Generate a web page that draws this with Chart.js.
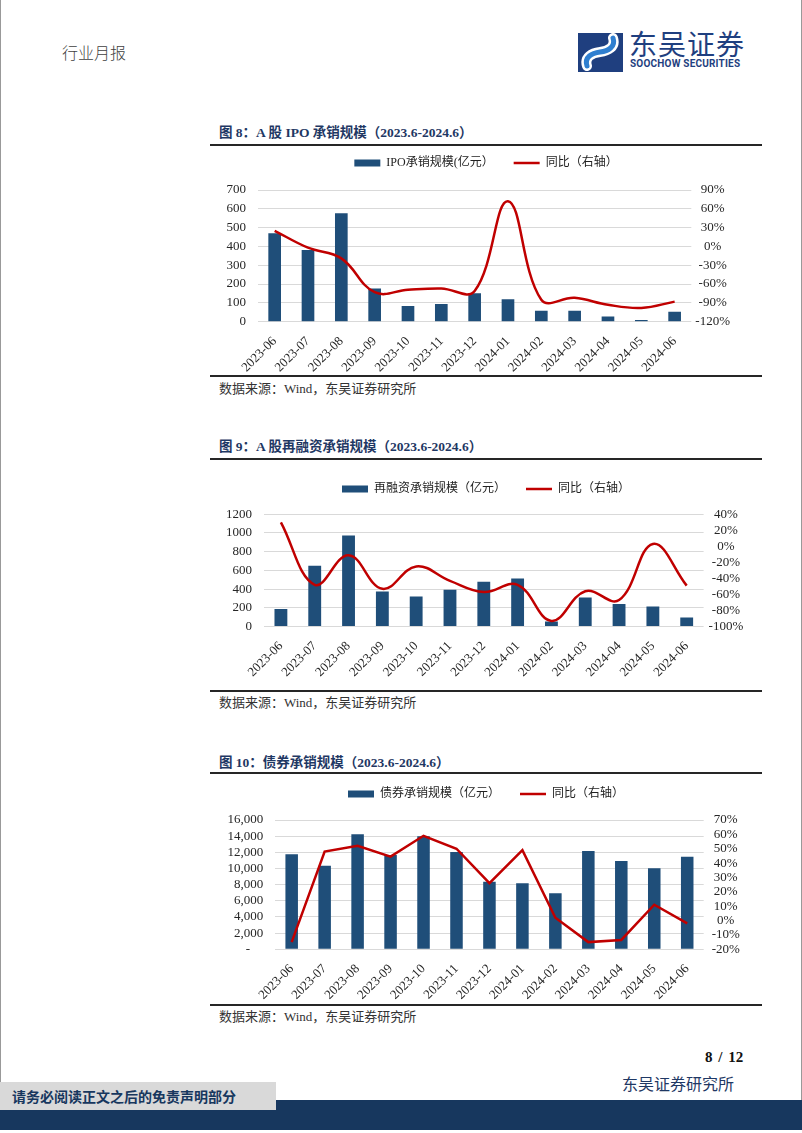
<!DOCTYPE html>
<html><head><meta charset="utf-8">
<script src="https://cdn.jsdelivr.net/npm/chart.js@4.4.1/dist/chart.umd.min.js"></script>
<style>
body{margin:0;background:#fff;}
#page{position:relative;width:802px;height:1133px;overflow:hidden;background:#fff;font-family:"Liberation Serif","Noto Sans CJK SC",serif;}
.abs{position:absolute;white-space:nowrap;}
.title{left:219px;font-size:13.5px;font-weight:bold;color:#1f3864;line-height:20px;height:20px;}
.rule{position:absolute;left:210px;width:552px;height:2px;background:#262626;}
.src{left:219px;font-size:13px;color:#333;line-height:18px;}
.cw{position:absolute;left:210px;width:552px;}
</style></head>
<body><div id="page">
<div class="abs" style="left:0;top:0;width:1px;height:1100px;background:#999"></div>
<div class="abs" style="right:0;top:0;width:1px;height:1100px;background:#999"></div>
<div class="abs" style="left:62px;top:41px;font-size:16px;color:#404040;line-height:22px;font-family:'Noto Sans CJK SC';font-weight:300">行业月报</div>
<svg class="abs" style="left:578px;top:33px" width="45" height="39" viewBox="0 0 45 39">
<rect x="0" y="0" width="45" height="39" fill="#1f3f7f"/>
<path d="M9,33 C6,24 14,20 22,19 C30,18 38,14 35,5" fill="none" stroke="#ffffff" stroke-width="10" stroke-linecap="round"/>
<path d="M9,33 C6,24 14,20 22,19 C30,18 38,14 35,5" fill="none" stroke="#2f7fd0" stroke-width="5" stroke-linecap="round"/>
</svg>
<div class="abs" style="left:629px;top:27px;font-size:28px;line-height:32px;color:#1f3f7f;font-family:'Noto Sans CJK SC';letter-spacing:1px">东吴证券</div>
<div class="abs" style="left:630px;top:58px;font-size:10px;line-height:12px;color:#1f3f7f;font-family:Roboto;font-weight:bold;letter-spacing:0.2px">SOOCHOW SECURITIES</div>

<div class="abs title" style="top:123px">图 8：A 股 IPO 承销规模（2023.6-2024.6）</div>
<div class="rule" style="top:144px"></div>
<div class="cw" id="w1"><canvas id="c1"></canvas></div>
<div class="rule" style="top:375px"></div>
<div class="abs src" style="top:380px">数据来源：Wind，东吴证券研究所</div>

<div class="abs title" style="top:437px">图 9：A 股再融资承销规模（2023.6-2024.6）</div>
<div class="rule" style="top:458px"></div>
<div class="cw" id="w2"><canvas id="c2"></canvas></div>
<div class="rule" style="top:690px"></div>
<div class="abs src" style="top:694px">数据来源：Wind，东吴证券研究所</div>

<div class="abs title" style="top:753px">图 10：债券承销规模（2023.6-2024.6）</div>
<div class="rule" style="top:772px"></div>
<div class="cw" id="w3"><canvas id="c3"></canvas></div>
<div class="rule" style="top:1004px"></div>
<div class="abs src" style="top:1008px">数据来源：Wind，东吴证券研究所</div>

<div class="abs" style="left:705px;top:1048px;font-size:15px;font-weight:bold;color:#111;line-height:18px;word-spacing:2px">8 / 12</div>
<div class="abs" style="left:622px;top:1073px;font-size:16px;color:#1f3864;line-height:20px;font-family:'Noto Sans CJK SC'">东吴证券研究所</div>
<div class="abs" style="left:0;top:1100px;width:802px;height:30px;background:#17375e"></div>
<div class="abs" style="left:0;top:1082px;width:276px;height:28px;background:#d9d9d9"></div>
<div class="abs" style="left:12px;top:1086px;font-size:14px;color:#17375e;line-height:20px;font-family:'Noto Sans CJK SC';font-weight:bold">请务必阅读正文之后的免责声明部分</div>
</div>
<script>
// ---- data ----
const categories = ['2023-06','2023-07','2023-08','2023-09','2023-10','2023-11','2023-12','2024-01','2024-02','2024-03','2024-04','2024-05','2024-06'];
const ipoScale = [470, 381, 576, 177, 83, 94, 151, 119, 58, 58, 27, 9, 53];
const ipoYoY = [25, -2, -19, -73, -69, -67, -71, 72, -85, -82, -93, -98, -88];
const refiScale = [186, 650, 972, 375, 321, 393, 479, 514, 54, 311, 240, 214, 96];
const refiYoY = [30, -48, -11, -53, -25, -43, -57, -48, -93, -56, -67, 3, -49];
const bondScale = [11750, 10340, 14225, 11665, 13980, 12036, 8360, 8160, 6930, 12160, 10920, 10020, 11455];
const bondYoY = [-15, 48, 52, 44.5, 59, 50, 26, 49, 2, -15, -13.5, 11, -2];
const ipoLeftTicks = {min: 0, max: 700, step: 100};
const ipoRightTicks = {min: -120, max: 90, step: 30};
const refiLeftTicks = {min: 0, max: 1200, step: 200};
const refiRightTicks = {min: -100, max: 40, step: 20};
const bondLeftTicks = {min: 0, max: 16000, step: 2000};
const bondRightTicks = {min: -20, max: 70, step: 10};

const BAR = '#1F4E79', RED = '#C00000';
const TICKFONT = {family: "'Liberation Serif', 'Noto Sans CJK SC', serif", size: 13};
const LEGFONT = {family: "'Liberation Serif', 'Noto Sans CJK SC', serif", size: 12};

const legendGap = {
  id: 'legendGap',
  beforeLayout(chart, args, opts) {
    const lg = chart.legend;
    if (lg && !lg._gapPatched) {
      const fit = lg.fit;
      lg.fit = function () { fit.call(this); this.height += (opts.extra || 0); };
      lg._gapPatched = true;
    }
  }
};

function build(canvasId, wrapId, geo, s) {
  const L = 210, R = 762;
  const H = geo.bottom - geo.top;
  const wrap = document.getElementById(wrapId);
  wrap.style.top = geo.top + 'px';
  wrap.style.height = H + 'px';
  const cv = document.getElementById(canvasId);
  cv.width = 552; cv.height = H;
  cv.style.width = '552px'; cv.style.height = H + 'px';
  const legP = 20;
  const extra = geo.plotTop - geo.legendCenter - 16;
  new Chart(cv, {
    data: {
      labels: categories,
      datasets: [
        {type: 'bar', label: s.barLabel, data: s.bars, backgroundColor: BAR, yAxisID: 'y', order: 1,
         barPercentage: 0.38, categoryPercentage: 1},
        {type: 'line', label: '同比（右轴）', data: s.line, borderColor: RED, backgroundColor: RED,
         borderWidth: 2.5, pointRadius: 0, tension: s.tension, yAxisID: 'y1', order: 0}
      ]
    },
    options: {
      responsive: false, animation: false, devicePixelRatio: 1, events: [],
      layout: {padding: 0},
      plugins: {
        tooltip: {enabled: false},
        legendGap: {extra: extra},
        legend: {
          position: 'top', align: 'center',
          labels: {
            font: LEGFONT, color: '#222', padding: legP, usePointStyle: true, pointStyleWidth: 26, boxHeight: 7,
            generateLabels(chart) {
              return chart.data.datasets.map((ds, i) => ({
                text: ds.label, fillStyle: ds.backgroundColor, strokeStyle: ds.type === 'line' ? ds.borderColor : ds.backgroundColor,
                lineWidth: ds.type === 'line' ? 2.5 : 0, pointStyle: ds.type === 'line' ? 'line' : 'rect',
                hidden: false, datasetIndex: i, fontColor: '#222'
              }));
            }
          }
        }
      },
      scales: {
        x: {
          grid: {display: false}, border: {display: false},
          ticks: {font: TICKFONT, color: '#262626', minRotation: 45, maxRotation: 45, padding: 4, autoSkip: false},
          afterFit(sc) { sc.height = geo.bottom - geo.plotBottom; }
        },
        y: {
          position: 'left', min: s.left.min, max: s.left.max,
          grid: {color: '#d9d9d9', lineWidth: 1, drawTicks: false}, border: {display: false},
          ticks: {stepSize: s.left.step, autoSkip: false, font: TICKFONT, color: '#262626', padding: 12, callback: s.leftFmt},
          afterFit(sc) { sc.width = geo.plotLeft - L; }
        },
        y1: {
          position: 'right', min: s.right.min, max: s.right.max,
          grid: {display: false, drawTicks: false}, border: {display: false},
          ticks: {stepSize: s.right.step, autoSkip: false, font: TICKFONT, color: '#262626', padding: s.rightPad, crossAlign: 'center',
                  callback: v => v + '%'},
          afterFit(sc) { sc.width = R - geo.plotRight; }
        }
      }
    },
    plugins: [legendGap]
  });
}

build('c1', 'w1', {top: 137, bottom: 372, plotTop: 190, plotBottom: 321.7, plotLeft: 258, plotRight: 691.3, legendCenter: 163},
  {barLabel: 'IPO承销规模(亿元）', bars: ipoScale, line: ipoYoY, tension: 0.4, left: ipoLeftTicks, right: ipoRightTicks,
   rightPad: 4, leftFmt: v => String(v)});
build('c2', 'w2', {top: 463, bottom: 686, plotTop: 514.3, plotBottom: 626.5, plotLeft: 264, plotRight: 703.6, legendCenter: 489},
  {barLabel: '再融资承销规模（亿元）', bars: refiScale, line: refiYoY, tension: 0.4, left: refiLeftTicks, right: refiRightTicks,
   rightPad: 5, leftFmt: v => String(v)});
build('c3', 'w3', {top: 768, bottom: 1000, plotTop: 820, plotBottom: 949.3, plotLeft: 275.2, plotRight: 703.7, legendCenter: 794},
  {barLabel: '债券承销规模（亿元）', bars: bondScale, line: bondYoY, tension: 0, left: bondLeftTicks, right: bondRightTicks,
   rightPad: 8, leftFmt: v => v === 0 ? '-    ' : v.toLocaleString('en-US')});
</script>
</body></html>
